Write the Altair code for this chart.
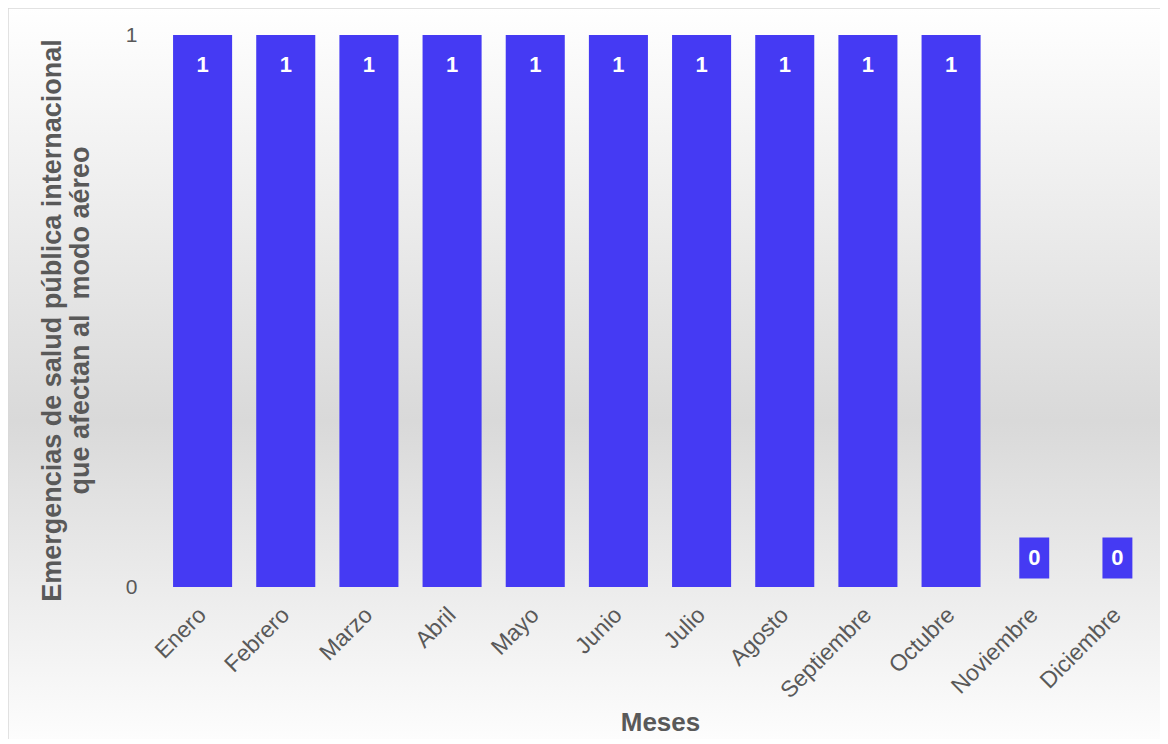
import altair as alt
import pandas as pd

meses = ["Enero", "Febrero", "Marzo", "Abril", "Mayo", "Junio", "Julio",
         "Agosto", "Septiembre", "Octubre", "Noviembre", "Diciembre"]
valores = [1, 1, 1, 1, 1, 1, 1, 1, 1, 1, 0, 0]
y_ticks = [0, 1]
y_title = ["Emergencias de salud pública internacional", "que afectan al\u00a0 modo aéreo"]
x_title = "Meses"

BAR = "#453AF3"
GRAY = "#595959"
FONT = "Liberation Sans"

df = pd.DataFrame({"mes": meses, "valor": valores})

W, H = 998, 552
PAD = {"left": 153, "top": 27, "right": 1, "bottom": 152}

xenc = alt.X("mes:N", sort=meses,
             scale=alt.Scale(paddingInner=0.29, paddingOuter=0.145),
             axis=alt.Axis(title=x_title, labelAngle=-45, labelAlign="right",
                           labelBaseline="middle", labelPadding=24,
                           labelFontSize=23, labelColor=GRAY, labelFont=FONT,
                           ticks=False, domain=False, grid=False, zindex=1,
                           titleFontSize=26, titleFontWeight="bold",
                           titleColor=GRAY, titleFont=FONT,
                           titleY=135, titleBaseline="middle"))
yscale = alt.Scale(domain=[0, 1], nice=False)
yenc = alt.Y("valor:Q", scale=yscale,
             axis=alt.Axis(title=y_title, values=y_ticks, format="d",
                           labelFontSize=21, labelColor=GRAY, labelFont=FONT,
                           labelPadding=24, ticks=False, domain=False, grid=False,
                           zindex=1,
                           titleFontSize=27, titleFontWeight="bold",
                           titleColor=GRAY, titleFont=FONT, titleLineHeight=28,
                           titleAngle=-90, titleBaseline="alphabetic",
                           titleAlign="center", titleX=-101, titleY=285))

bg = alt.Chart(pd.DataFrame({"a": [0]})).mark_rect(
    fill=alt.LinearGradient(
        gradient="linear", x1=0, y1=0, x2=0, y2=1,
        stops=[alt.GradientStop(offset=0, color="#ffffff"),
               alt.GradientStop(offset=0.55, color="#d9d9d9"),
               alt.GradientStop(offset=1, color="#ffffff")]),
    stroke="#d9d9d9", strokeWidth=1.5
).encode(
    x=alt.value(-PAD["left"]), x2=alt.value(W + PAD["right"] + 10),
    y=alt.value(-PAD["top"]), y2=alt.value(H + PAD["bottom"] + 20)
)

base = alt.Chart(df)
bars = base.mark_bar(color=BAR).encode(x=xenc, y=yenc)

pos = base.transform_filter("datum.valor > 0")
lab_pos = pos.mark_text(color="white", fontSize=22, fontWeight="bold",
                        font=FONT, baseline="middle", dy=30).encode(
    x=alt.X("mes:N", sort=meses), y=alt.Y("valor:Q"), text=alt.Text("valor:Q"))

zero = base.transform_filter("datum.valor == 0")
box = zero.mark_point(shape="M-0.73,-1H0.73V1H-0.73Z", filled=True, opacity=1,
                      color=BAR, size=1681, yOffset=-29).encode(
    x=alt.X("mes:N", sort=meses), y=alt.Y("valor:Q"))
lab_zero = zero.mark_text(color="white", fontSize=22, fontWeight="bold",
                          font=FONT, baseline="middle", dy=-29).encode(
    x=alt.X("mes:N", sort=meses), y=alt.Y("valor:Q"), text=alt.Text("valor:Q"))

chart = alt.layer(bg, bars, lab_pos, box, lab_zero).properties(
    width=W, height=H,
    autosize=alt.AutoSizeParams(type="none"),
    padding=PAD
).configure_view(stroke=None).configure(background="white")

chart.save("out.html", embed_options={"renderer": "svg", "actions": False})
